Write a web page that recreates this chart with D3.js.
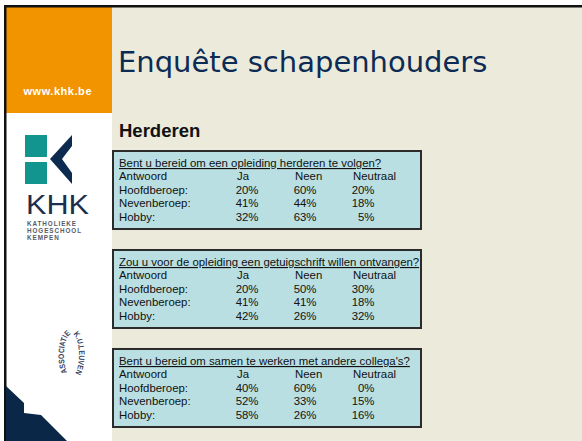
<!DOCTYPE html>
<html>
<head>
<meta charset="utf-8">
<script src="https://cdn.jsdelivr.net/npm/d3@7"></script>
<style>
  body { margin: 0; background: #fff; }
  svg { display: block; }
</style>
</head>
<body>
<div id="container"></div>
<script>
// slide data
var title = "Enquête schapenhouders";
var subtitle = "Herderen";
var questions = [
  "Bent u bereid om een opleiding herderen te volgen?",
  "Zou u voor de opleiding een getuigschrift willen ontvangen?",
  "Bent u bereid om samen te werken met andere collega's?"
];
var answers = ["Ja", "Neen", "Neutraal"];
var groups = ["Hoofdberoep:", "Nevenberoep:", "Hobby:"];
// percentages per question, rows = groups, cols = answers
var q1Values = [[20, 60, 20], [41, 44, 18], [32, 63, 5]];
var q2Values = [[20, 50, 30], [41, 41, 18], [42, 26, 32]];
var q3Values = [[40, 60, 0], [52, 33, 15], [58, 26, 16]];
var allValues = [q1Values, q2Values, q3Values];

var w = 582, h = 441;
var navy = "#0c2b55";
var font = "Liberation Sans, Arial, sans-serif";

var svg = d3.select("#container")
  .append("svg")
  .attr("width", w)
  .attr("height", h);

// background pieces
svg.append("rect").attr("x", 0).attr("y", 0).attr("width", w).attr("height", h).attr("fill", "#fff");
svg.append("rect").attr("x", 112).attr("y", 7).attr("width", w - 112).attr("height", h - 7).attr("fill", "#ecebdb");
svg.append("rect").attr("x", 6).attr("y", 7).attr("width", 106).attr("height", 106).attr("fill", "#f29400");
// black frame lines
svg.append("rect").attr("x", 4).attr("y", 5).attr("width", w - 4).attr("height", 2.5).attr("fill", "#111");
svg.append("rect").attr("x", 4).attr("y", 5).attr("width", 2.5).attr("height", h - 5).attr("fill", "#111");

svg.append("text")
  .attr("x", 57.5).attr("y", 95)
  .attr("text-anchor", "middle")
  .attr("font-family", font)
  .attr("font-weight", "bold")
  .attr("font-size", "11px")
  .attr("textLength", 68)
  .attr("fill", "#fff")
  .text("www.khk.be");

// KHK logo
var logo = svg.append("g").attr("class", "khk");
logo.append("rect").attr("x", 25).attr("y", 135).attr("width", 22).attr("height", 22).attr("fill", "#12958f");
logo.append("rect").attr("x", 25).attr("y", 162).attr("width", 22).attr("height", 22).attr("fill", "#12958f");
logo.append("polygon")
  .attr("points", "72,135 50,159 72,184 72,173 62,159 72,146")
  .attr("fill", "#0d2a4f");
logo.append("text")
  .attr("x", 26).attr("y", 214)
  .attr("font-family", font)
  .attr("font-size", "27px")
  .attr("textLength", 63)
  .attr("lengthAdjust", "spacingAndGlyphs")
  .attr("fill", "#1d2f4f")
  .text("KHK");
logo.selectAll("text.sub")
  .data(["KATHOLIEKE", "HOGESCHOOL", "KEMPEN"])
  .enter()
  .append("text")
  .attr("class", "sub")
  .attr("x", 27)
  .attr("y", function(d, i) { return 226 + i * 7; })
  .attr("font-family", font)
  .attr("font-weight", "bold")
  .attr("font-size", "6.3px")
  .attr("letter-spacing", "0.95px")
  .attr("fill", "#555a66")
  .text(function(d) { return d; });

// Associatie K.U.Leuven oval logo
var cx = 71.5, cy = 355, rx = 7.5, ry = 21;
svg.append("path")
  .attr("id", "oval")
  .attr("d", "M" + cx + "," + (cy + ry) + " A" + rx + "," + ry + " 0 1 1 " + (cx + 0.01) + "," + (cy + ry))
  .attr("fill", "none");
svg.append("text")
  .attr("font-family", font)
  .attr("font-weight", "bold")
  .attr("font-size", "8px")
  .attr("fill", "#3a4560")
  .append("textPath")
  .attr("href", "#oval")
  .attr("startOffset", "6%")
  .attr("textLength", 84)
  .attr("lengthAdjust", "spacingAndGlyphs")
  .text("ASSOCIATIE K.U.LEUVEN");

// bottom-left navy corner
svg.append("polygon")
  .attr("points", "6,386 24,403 24,413 41,415 67,441 6,441")
  .attr("fill", "#0b2748");

// title
svg.append("text")
  .attr("x", 118).attr("y", 72)
  .attr("font-family", "DejaVu Sans, Verdana, sans-serif")
  .attr("font-size", "29px")
  .attr("fill", navy)
  .text(title);

svg.append("text")
  .attr("x", 119).attr("y", 137)
  .attr("font-family", font)
  .attr("font-weight", "bold")
  .attr("font-size", "18.5px")
  .attr("fill", "#111")
  .text(subtitle);

// scales for the table boxes
var yBox = d3.scaleBand()
  .domain(d3.range(questions.length))
  .range([151, 427])
  .paddingInner(0.212);

var xCol = d3.scalePoint()
  .domain(answers)
  .range([237, 353]);

var yRow = d3.scaleLinear()
  .domain([0, 1])
  .range([29, 42.7]);

var fs = "11.4px";

var boxes = svg.selectAll("g.box")
  .data(questions)
  .enter()
  .append("g")
  .attr("class", "box")
  .attr("transform", function(d, i) { return "translate(0," + yBox(i) + ")"; });

boxes.append("rect")
  .attr("x", 113).attr("y", 0)
  .attr("width", 308)
  .attr("height", yBox.bandwidth())
  .attr("fill", "#b9dfe2")
  .attr("stroke", "#2b2b2b")
  .attr("stroke-width", 2);

boxes.append("text")
  .attr("x", 119).attr("y", 16)
  .attr("font-family", font)
  .attr("font-size", fs)
  .attr("fill", "#111")
  .attr("text-decoration", "underline")
  .text(function(d) { return d; });

// header row
boxes.append("text")
  .attr("x", 119).attr("y", yRow(0))
  .attr("font-family", font).attr("font-size", fs).attr("fill", "#111")
  .text("Antwoord");
boxes.selectAll("text.ans")
  .data(answers)
  .enter()
  .append("text")
  .attr("class", "ans")
  .attr("x", function(d) { return xCol(d); })
  .attr("y", yRow(0))
  .attr("font-family", font).attr("font-size", fs).attr("fill", "#111")
  .text(function(d) { return d; });

// group rows
boxes.selectAll("text.grp")
  .data(groups)
  .enter()
  .append("text")
  .attr("class", "grp")
  .attr("x", 119)
  .attr("y", function(d, i) { return yRow(i + 1); })
  .attr("font-family", font).attr("font-size", fs).attr("fill", "#111")
  .text(function(d) { return d; });

boxes.each(function(q, qi) {
  var rows = allValues[qi];
  var cells = [];
  rows.forEach(function(r, ri) {
    r.forEach(function(v, ci) {
      cells.push({ row: ri, ans: answers[ci], value: v });
    });
  });
  d3.select(this).selectAll("text.val")
    .data(cells)
    .enter()
    .append("text")
    .attr("class", "val")
    .attr("text-anchor", "end")
    .attr("x", function(d) { return xCol(d.ans) + 21.5; })
    .attr("y", function(d) { return yRow(d.row + 1); })
    .attr("font-family", font).attr("font-size", fs).attr("fill", "#111")
    .text(function(d) { return d.value + "%"; });
});
</script>
</body>
</html>
